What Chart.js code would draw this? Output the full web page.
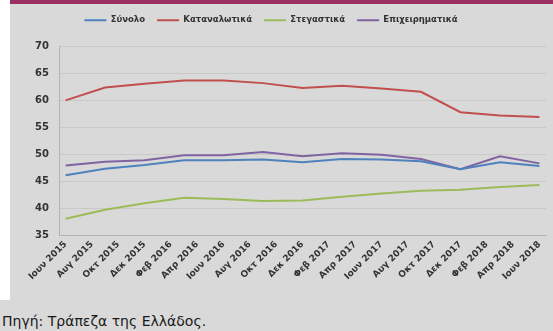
<!DOCTYPE html>
<html>
<head>
<meta charset="utf-8">
<script src="https://cdn.jsdelivr.net/npm/chart.js@4/dist/chart.umd.min.js"></script>
<style>
  html, body { margin: 0; padding: 0; }
  body { width: 553px; height: 331px; background: #d9d9d9; position: relative; overflow: hidden; font-family: "DejaVu Sans", sans-serif; }
  #whiteStrip { position: absolute; left: 0; top: 0; width: 10px; height: 300px; background: #ffffff; }
  #band { position: absolute; left: 10px; top: 0; width: 543px; height: 4px; background: #9b3160; }
  #wrap { position: absolute; left: 10px; top: 4px; width: 543px; height: 296px; }
  #source { position: absolute; left: 2px; top: 313px; font-size: 14px; color: #1a1a1a; white-space: nowrap; }
</style>
</head>
<body>
<div id="whiteStrip"></div>
<div id="band"></div>
<div id="wrap"><canvas id="c" width="543" height="296"></canvas></div>
<div id="source">Πηγή: Τράπεζα της Ελλάδος.</div>
<script>
// Tick labels on the x axis (every two months)
const tickLabels = ["Ιουν 2015","Αυγ 2015","Οκτ 2015","Δεκ 2015","Φεβ 2016","Απρ 2016","Ιουν 2016","Αυγ 2016","Οκτ 2016","Δεκ 2016","Φεβ 2017","Απρ 2017","Ιουν 2017","Αυγ 2017","Οκτ 2017","Δεκ 2017","Φεβ 2018","Απρ 2018","Ιουν 2018"];
// Quarterly observations: months elapsed since Jun 2015
const obsMonths = [0,3,6,9,12,15,18,21,24,27,30,33,36];
const seriesNames = ["Σύνολο","Καταναλωτικά","Στεγαστικά","Επιχειρηματικά"];
const total      = [46.1,47.3,48.0,48.9,48.9,49.0,48.5,49.1,49.0,48.7,47.2,48.5,47.8];
const consumer   = [60.0,62.4,63.1,63.7,63.7,63.2,62.3,62.7,62.2,61.6,57.8,57.2,56.9];
const housing    = [38.0,39.7,40.9,41.9,41.7,41.3,41.4,42.1,42.7,43.2,43.4,43.9,44.3];
const business   = [47.9,48.6,48.9,49.8,49.8,50.4,49.6,50.2,49.9,49.1,47.2,49.6,48.3];
const seriesColors = ["#4f81bd","#c0504d","#9bbb59","#8064a2"];
const yTicks = [35,40,45,50,55,60,65,70];

const seriesValues = [total, consumer, housing, business];
const datasets = seriesValues.map((vals, i) => ({
  label: seriesNames[i],
  data: vals.map((v, k) => ({ x: obsMonths[k], y: v })),
  borderColor: seriesColors[i],
  backgroundColor: seriesColors[i],
  borderWidth: 2,
  pointRadius: 0,
  tension: 0,
  fill: false
}));

const legendTweak = {
  id: "legendTweak",
  afterInit(chart) {
    const lg = chart.legend;
    if (!lg) return;
    const origFit = lg.fit;
    lg.fit = function () { origFit.call(this); this.height += 12; };
  },
  afterLayout(chart) {
    const lg = chart.legend;
    if (!lg) return;
    lg.left -= 7; lg.right -= 7;
  }
};

const txt = "#333333";
new Chart(document.getElementById("c"), {
  type: "line",
  data: { datasets },
  plugins: [legendTweak],
  options: {
    responsive: false,
    animation: false,
    layout: { padding: { left: 0, right: 7, top: 0, bottom: 0 } },
    plugins: {
      tooltip: { enabled: false },
      legend: {
        display: true,
        position: "top",
        labels: {
          boxWidth: 22,
          boxHeight: 2,
          padding: 12,
          color: txt,
          font: { family: "DejaVu Sans", size: 8.5, weight: "bold" },
          generateLabels: (chart) => Chart.defaults.plugins.legend.labels.generateLabels(chart).map(l => ({ ...l, lineWidth: 0, fillStyle: l.strokeStyle }))
        }
      }
    },
    scales: {
      x: {
        type: "linear",
        min: -0.5,
        max: 36.5,
        afterBuildTicks: (s) => { s.ticks = tickLabels.map((_, i) => ({ value: i * 2 })); },
        afterFit: (s) => { s.height = 65; },
        grid: { color: "rgba(0,0,0,0)", drawTicks: false },
        border: { display: true, color: "#b3b3b3", width: 1 },
        ticks: {
          autoSkip: false,
          maxRotation: 45,
          minRotation: 45,
          padding: 4,
          color: txt,
          font: { family: "DejaVu Sans", size: 9, weight: "bold" },
          callback: (v) => tickLabels[Math.round(v / 2)]
        }
      },
      y: {
        min: 35,
        max: 70,
        afterBuildTicks: (s) => { s.ticks = yTicks.map(v => ({ value: v })); },
        afterFit: (s) => { s.width = 49; },
        grid: { color: "#c9c9c9", drawTicks: false },
        border: { display: true, color: "#b3b3b3", width: 1 },
        ticks: {
          padding: 10,
          color: txt,
          font: { family: "DejaVu Sans", size: 10, weight: "bold" }
        }
      }
    }
  }
});
</script>
</body>
</html>
